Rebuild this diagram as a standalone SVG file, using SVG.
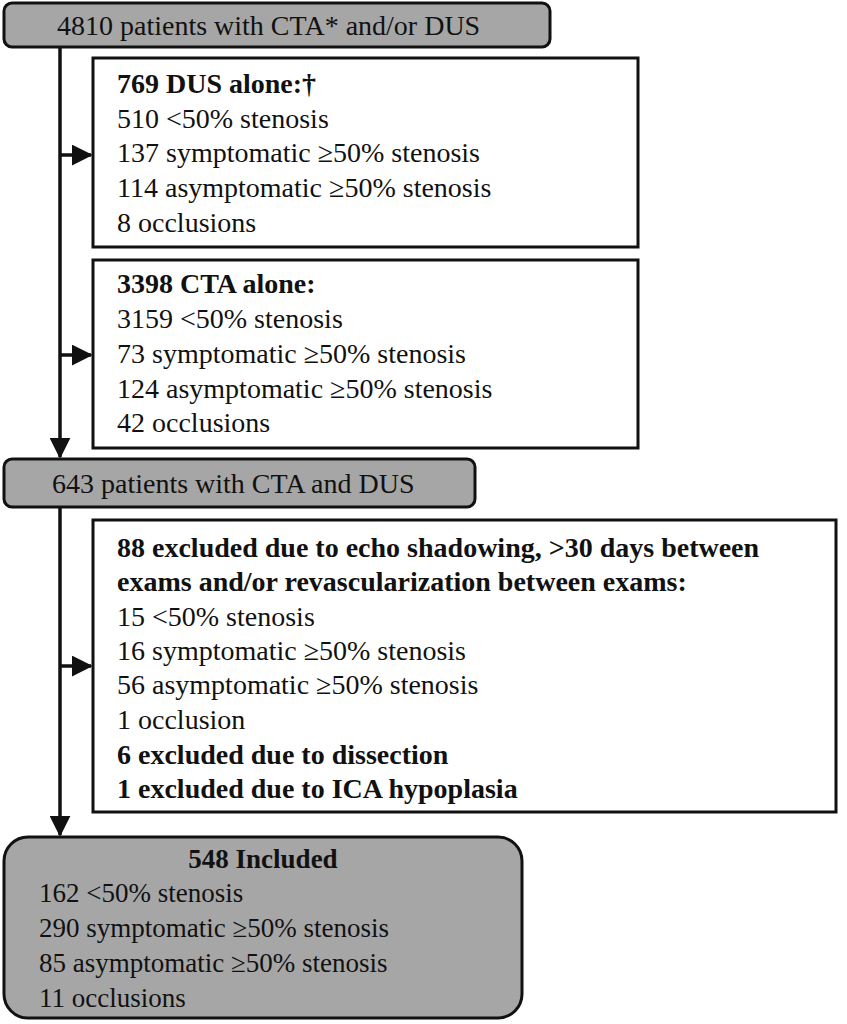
<svg xmlns="http://www.w3.org/2000/svg" width="847" height="1024" viewBox="0 0 847 1024">
<defs>
<style>
.t{font-family:"Liberation Serif","Times New Roman",serif;font-size:28px;fill:#111}
.s{font-size:27px}
.b{font-weight:bold}
.gray{fill:#a6a6a6;stroke:#111;stroke-width:3}
.white{fill:#fff;stroke:#111;stroke-width:3}
.ln{stroke:#111;stroke-width:3.5;fill:none}
</style>
<marker id="ah" markerWidth="6" markerHeight="6" refX="5.5" refY="3" orient="auto" markerUnits="strokeWidth">
<path d="M0,0 L6,3 L0,6 Z" fill="#111"/>
</marker>
</defs>
<g id="connectors">
<line class="ln" x1="60" y1="47" x2="60" y2="457" marker-end="url(#ah)"/>
<line class="ln" x1="60" y1="155" x2="91" y2="155" marker-end="url(#ah)"/>
<line class="ln" x1="60" y1="355" x2="91" y2="355" marker-end="url(#ah)"/>
<line class="ln" x1="60" y1="507" x2="60" y2="835" marker-end="url(#ah)"/>
<line class="ln" x1="60" y1="666" x2="91" y2="666" marker-end="url(#ah)"/>
</g>
<g id="n-4810">
<rect class="gray" x="4" y="3" width="546" height="44" rx="8"/>
<text class="t" x="57" y="35">4810 patients with CTA* and/or DUS</text>
</g>
<g id="n-dus">
<rect class="white" x="93" y="58" width="545" height="189"/>
<text class="t" x="117" y="93"><tspan class="b">769 DUS alone:†</tspan><tspan x="117" y="128">510 &lt;50% stenosis</tspan><tspan x="117" y="162">137 symptomatic ≥50% stenosis</tspan><tspan x="117" y="197">114 asymptomatic ≥50% stenosis</tspan><tspan x="117" y="232">8 occlusions</tspan></text>
</g>
<g id="n-cta">
<rect class="white" x="93" y="260" width="545" height="188"/>
<text class="t" x="117" y="293"><tspan class="b">3398 CTA alone:</tspan><tspan x="117" y="328">3159 &lt;50% stenosis</tspan><tspan x="117" y="363">73 symptomatic ≥50% stenosis</tspan><tspan x="117" y="398">124 asymptomatic ≥50% stenosis</tspan><tspan x="117" y="432">42 occlusions</tspan></text>
</g>
<g id="n-643">
<rect class="gray" x="4" y="459" width="471" height="48" rx="8"/>
<text class="t" x="52" y="493">643 patients with CTA and DUS</text>
</g>
<g id="n-excl">
<rect class="white" x="93" y="520" width="743" height="292"/>
<text class="t" x="117" y="557"><tspan class="b">88 excluded due to echo shadowing, &gt;30 days between</tspan><tspan class="b" x="117" y="591">exams and/or revascularization between exams:</tspan><tspan x="117" y="626">15 &lt;50% stenosis</tspan><tspan x="117" y="660">16 symptomatic ≥50% stenosis</tspan><tspan x="117" y="694">56 asymptomatic ≥50% stenosis</tspan><tspan x="117" y="729">1 occlusion</tspan><tspan class="b" x="117" y="764">6 excluded due to dissection</tspan><tspan class="b" x="117" y="798">1 excluded due to ICA hypoplasia</tspan></text>
</g>
<g id="n-548">
<rect class="gray" x="4" y="837" width="518" height="181" rx="24"/>
<text class="t s b" x="263" y="868" text-anchor="middle">548 Included</text>
<text class="t s" x="39" y="902">162 &lt;50% stenosis<tspan x="39" y="937">290 symptomatic ≥50% stenosis</tspan><tspan x="39" y="972">85 asymptomatic ≥50% stenosis</tspan><tspan x="39" y="1007">11 occlusions</tspan></text>
</g>
</svg>
